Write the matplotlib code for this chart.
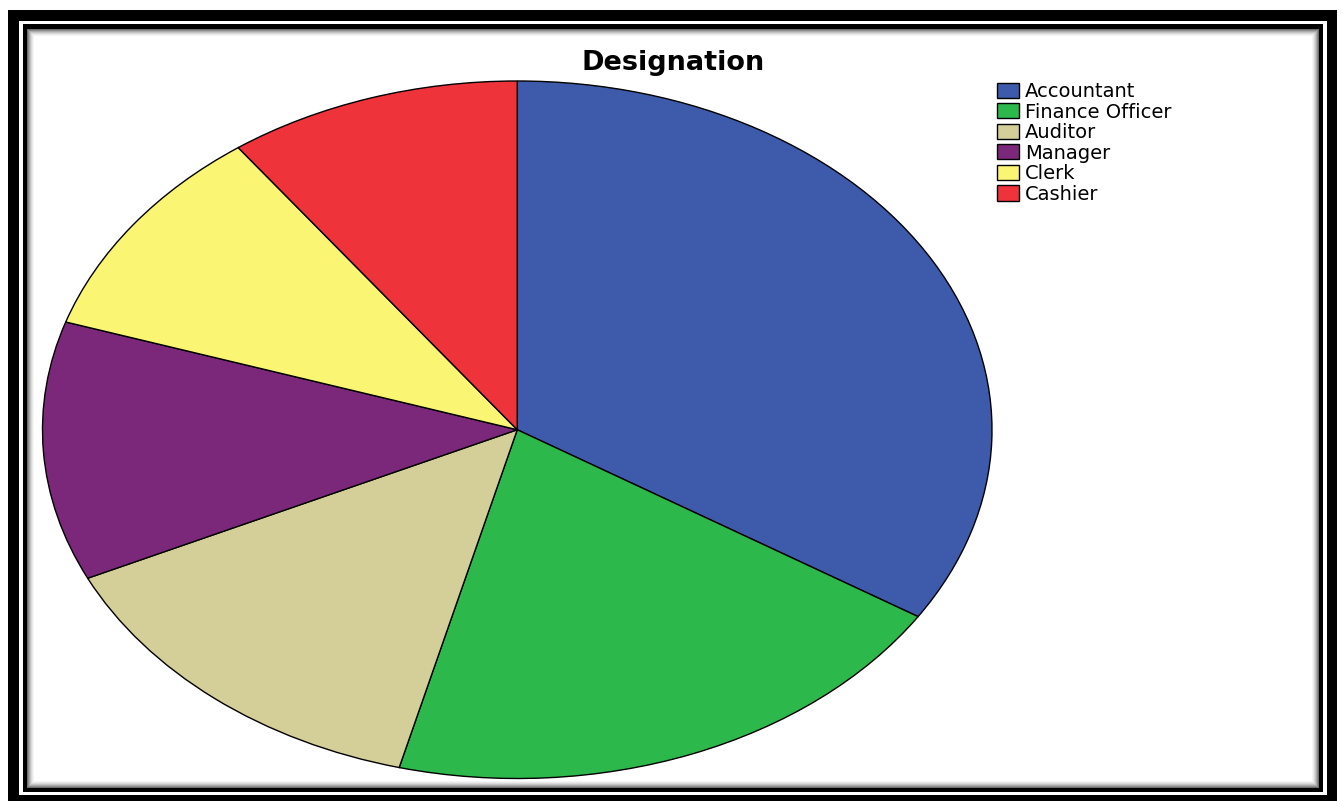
import matplotlib
matplotlib.use("Agg")
import matplotlib.pyplot as plt
from matplotlib.patches import Rectangle

# Designation counts
designations = ["Accountant", "Finance Officer", "Auditor", "Manager", "Clerk", "Cashier"]
counts = [34, 20, 14, 12, 10, 10]
slice_colors = ["#3d5aab", "#2db84b", "#d4ce98", "#7b287a", "#faf572", "#ef333a"]

W, H = 1343, 801
fig = plt.figure(figsize=(W / 100, H / 100), dpi=100)
fig.patch.set_facecolor("white")

# background axes in pixel units, used for the double frame
bg = fig.add_axes([0, 0, 1, 1], zorder=0)
bg.set_xlim(0, W)
bg.set_ylim(H, 0)
bg.axis("off")

def box(x0, y0, x1, y1, color):
    bg.add_patch(Rectangle((x0, y0), x1 - x0, y1 - y0, facecolor=color,
                           edgecolor="none", linewidth=0))

box(8, 10, 1337, H + 5, "black")
box(19, 21, 1327, 795, "white")
box(23, 24, 1323, 792, "black")
# soft inner shadow just inside the inner line
shades = ["#6e6e6e", "#8e8e8e", "#aaaaaa", "#c4c4c4", "#d9d9d9", "#e9e9e9", "#f5f5f5", "white"]
for i, c in enumerate(shades):
    box(27 + i, 29 + i, 1319 - i, 788 - i, c)

# pie, stretched into an ellipse
cx0, cx1 = 42.5, 992.0
cy0, cy1 = 81.0, 778.5
ax = fig.add_axes([cx0 / W, 1 - cy1 / H, (cx1 - cx0) / W, (cy1 - cy0) / H], zorder=1)
wedges, _ = ax.pie(counts, colors=slice_colors, startangle=90, counterclock=False,
                   radius=1.0, wedgeprops=dict(edgecolor="black", linewidth=1.0))
ax.set_aspect("auto")
ax.set_xlim(-1, 1)
ax.set_ylim(-1, 1)
ax.axis("off")

fig.text(673.5 / W, 1 - 70 / H, "Designation", ha="center", va="baseline",
         fontsize=19.5, fontweight="bold", family="DejaVu Sans", zorder=3)

fig.legend(wedges, designations, loc="upper left",
           bbox_to_anchor=(997 / W, 1 - 82 / H), bbox_transform=fig.transFigure,
           frameon=False, borderpad=0, borderaxespad=0,
           handlelength=1.13, handleheight=0.82, handletextpad=0.3,
           labelspacing=0.08, prop={"family": "DejaVu Sans", "size": 14})

fig.savefig("out.png", dpi=100)
